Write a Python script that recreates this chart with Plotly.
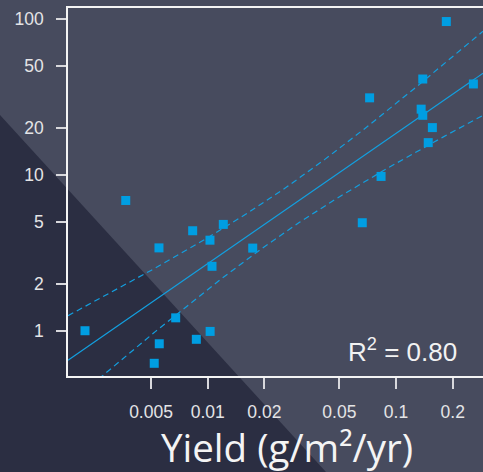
import numpy as np
import plotly.graph_objects as go

# Data (log-log scatter)
yield_x = [0.00223, 0.00367, 0.00551, 0.00832, 0.01028, 0.0121, 0.01054, 0.01734,
           0.00676, 0.00553, 0.00520, 0.00870, 0.01030,
           0.185, 0.1387, 0.0724, 0.136, 0.1387, 0.2576, 0.156, 0.1483, 0.0833, 0.0662]
value_y = [1.00, 6.85, 3.40, 4.38, 3.81, 4.81, 2.59, 3.39,
           1.21, 0.825, 0.618, 0.881, 0.99,
           96.3, 41.2, 31.2, 26.4, 24.1, 38.3, 20.1, 16.1, 9.77, 4.93]
x_tick_vals = [0.005, 0.01, 0.02, 0.05, 0.1, 0.2]
x_tick_text = ["0.005", "0.01", "0.02", "0.05", "0.1", "0.2"]
y_tick_vals = [1, 2, 5, 10, 20, 50, 100]
y_tick_text = ["1", "2", "5", "10", "20", "50", "100"]
r2_label = "R<sup>2</sup> = 0.80"
x_title = "Yield (g/m²/yr)"

X_RANGE = [-2.742, -0.538]
Y_RANGE = [-0.2904, 2.0705]

# Linear regression in log-log space with 95% confidence band
lx = np.log10(yield_x)
ly = np.log10(value_y)
n = len(lx)
xm, ym = lx.mean(), ly.mean()
sxx = np.sum((lx - xm) ** 2)
sxy = np.sum((lx - xm) * (ly - ym))
slope = sxy / sxx
icpt = ym - slope * xm
resid = ly - (icpt + slope * lx)
s = np.sqrt(np.sum(resid ** 2) / (n - 2))
t975 = 2.080  # t quantile, df = 21

gx = np.linspace(X_RANGE[0], X_RANGE[1], 200)
gfit = icpt + slope * gx
half = t975 * s * np.sqrt(1.0 / n + (gx - xm) ** 2 / sxx)

line_col = "#139fdf"
mark_col = "#009ee2"

fig = go.Figure()
fig.add_trace(go.Scatter(x=10 ** gx, y=10 ** (gfit + half), mode="lines",
                         line=dict(color=line_col, width=1.2, dash="6px,4px"),
                         hoverinfo="skip", showlegend=False))
fig.add_trace(go.Scatter(x=10 ** gx, y=10 ** (gfit - half), mode="lines",
                         line=dict(color=line_col, width=1.2, dash="6px,4px"),
                         hoverinfo="skip", showlegend=False))
fig.add_trace(go.Scatter(x=10 ** gx, y=10 ** gfit, mode="lines",
                         line=dict(color=line_col, width=1.2),
                         hoverinfo="skip", showlegend=False))
fig.add_trace(go.Scatter(x=yield_x, y=value_y, mode="markers",
                         marker=dict(symbol="square", size=9, color=mark_col, line=dict(width=0)),
                         showlegend=False))

L, R, T, B = 68, 0, 8, 96
W, H = 483, 472
pw, ph = W - L - R, H - T - B

def px(xpix):
    return (xpix - L) / pw

def py(ypix):
    return (H - B - ypix) / ph

tick_font = dict(family="Liberation Sans, Arial, sans-serif", size=17.5, color="#e4e4e6")

fig.update_layout(
    width=W, height=H,
    margin=dict(l=L, r=R, t=T, b=B, pad=0),
    paper_bgcolor="#474b5e",
    plot_bgcolor="rgba(0,0,0,0)",
    showlegend=False,
    xaxis=dict(type="log", range=X_RANGE, tickvals=x_tick_vals, ticktext=x_tick_text,
               showgrid=False, zeroline=False, showline=True, linecolor="#f4f4f4", linewidth=1.6,
               mirror=True, ticks="outside", ticklen=11, tickwidth=1.5, tickcolor="#d8d8dc",
               tickfont=tick_font, ticklabelstandoff=8),
    yaxis=dict(type="log", range=Y_RANGE, tickvals=y_tick_vals, ticktext=y_tick_text,
               showgrid=False, zeroline=False, showline=True, linecolor="#f4f4f4", linewidth=1.6,
               ticks="outside", ticklen=10, tickwidth=1.5, tickcolor="#d8d8dc",
               tickfont=tick_font, ticklabelstandoff=9),
    shapes=[
        dict(type="path", xref="paper", yref="paper", layer="below",
             path=f"M {px(0)},{py(115)} L {px(326)},{py(H)} L {px(0)},{py(H)} Z",
             fillcolor="#2b2e42", line=dict(width=0)),
    ],
    annotations=[
        dict(text=r2_label, xref="paper", yref="paper", x=px(459), y=py(350),
             xanchor="right", yanchor="middle", showarrow=False,
             font=dict(family="Liberation Sans, Arial, sans-serif", size=26, color="#f2f2f2")),
        dict(text=x_title, xref="paper", yref="paper", x=px(287), y=py(446.6),
             xanchor="center", yanchor="middle", showarrow=False,
             font=dict(family="Open Sans, sans-serif", size=38.5, color="#f4f4f4")),
    ],
)

fig.write_html("out.html")
